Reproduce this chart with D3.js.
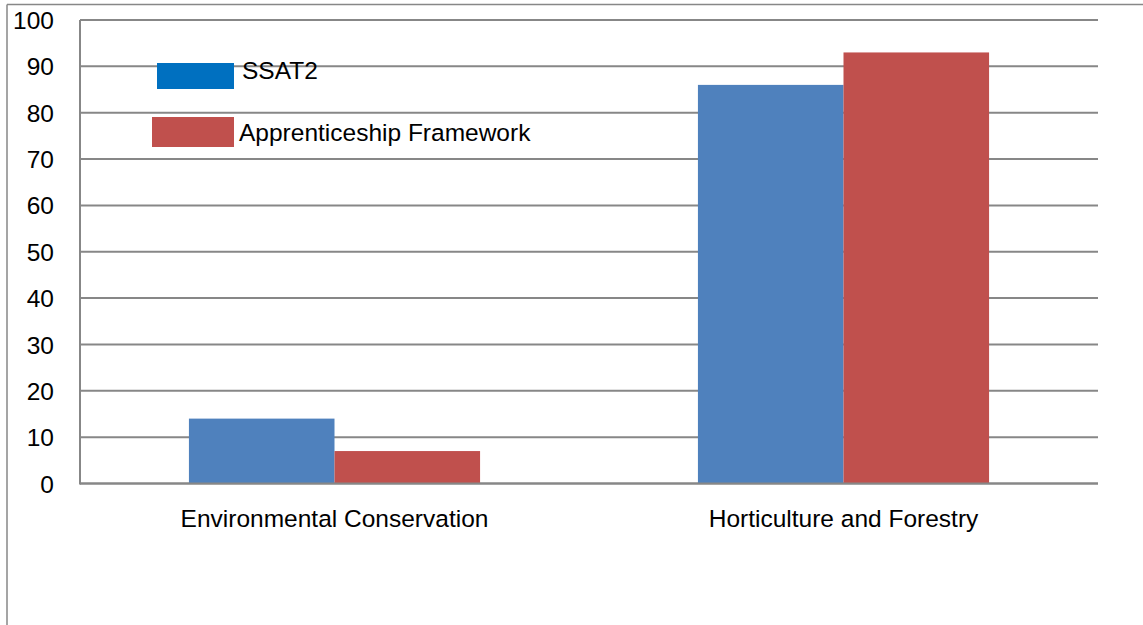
<!DOCTYPE html>
<html><head><meta charset="utf-8">
<script src="https://cdn.jsdelivr.net/npm/d3@7"></script>
<style>body{margin:0;background:#fff}svg{display:block}text{font-family:"Liberation Sans",Arial,sans-serif;fill:#000}</style>
</head><body>
<script>
const categories = ["Environmental Conservation", "Horticulture and Forestry"];
const seriesNames = ["SSAT2", "Apprenticeship Framework"];
const ssat2 = [14, 86];
const apprenticeship = [7, 93];
const yTicks = [0, 10, 20, 30, 40, 50, 60, 70, 80, 90, 100];

const W = 1143, H = 625;
const FS = 24.5;
const svg = d3.select("body").append("svg").attr("width", W).attr("height", H);
const m = {left: 80, right: 1098, top: 20, bottom: 483.5};

const grid = "#878787";
// outer frame (top and left visible)
svg.append("line").attr("x1", 7).attr("x2", W).attr("y1", 4.5).attr("y2", 4.5).attr("stroke", grid).attr("stroke-width", 1.5);
svg.append("line").attr("x1", 7).attr("x2", 7).attr("y1", 4.5).attr("y2", H).attr("stroke", grid).attr("stroke-width", 1.5);

const y = d3.scaleLinear().domain([0, 100]).range([m.bottom, m.top]);
const x0 = d3.scaleBand().domain(categories).range([m.left, m.right]).paddingInner(0.428).paddingOuter(0.214);
const x1 = d3.scaleBand().domain(seriesNames).range([0, x0.bandwidth()]);

// gridlines
svg.append("g").selectAll("line").data(yTicks).join("line")
  .attr("x1", m.left).attr("x2", m.right)
  .attr("y1", d => y(d)).attr("y2", d => y(d))
  .attr("stroke", grid).attr("stroke-width", 2);

// y axis labels
const yAxis = d3.axisLeft(y).tickValues(yTicks).tickSize(0).tickPadding(26);
const ya = svg.append("g").attr("transform", `translate(${m.left},0)`).call(yAxis);
ya.select(".domain").remove();
ya.selectAll("text").attr("font-size", FS).attr("font-family", '"Liberation Sans",Arial,sans-serif').attr("dy", "0.35em");

// bars
const colors = {"SSAT2": "#4F81BD", "Apprenticeship Framework": "#C0504D"};
const data = categories.map((c, i) => ({cat: c, vals: [{s: seriesNames[0], v: ssat2[i]}, {s: seriesNames[1], v: apprenticeship[i]}]}));
const g = svg.append("g").selectAll("g").data(data).join("g").attr("transform", d => `translate(${x0(d.cat)},0)`);
g.selectAll("rect").data(d => d.vals).join("rect")
  .attr("x", d => x1(d.s)).attr("width", x1.bandwidth())
  .attr("y", d => y(d.v)).attr("height", d => y(0) - y(d.v))
  .attr("fill", d => colors[d.s]);

// axes lines
svg.append("line").attr("x1", m.left).attr("x2", m.left).attr("y1", m.top).attr("y2", m.bottom + 1).attr("stroke", grid).attr("stroke-width", 2);
svg.append("line").attr("x1", m.left).attr("x2", m.right).attr("y1", m.bottom).attr("y2", m.bottom).attr("stroke", grid).attr("stroke-width", 2);

// x labels
const xAxis = d3.axisBottom(x0).tickSize(0).tickPadding(0);
const xa = svg.append("g").attr("transform", `translate(0,${m.bottom})`).call(xAxis);
xa.select(".domain").remove();
xa.selectAll("text").attr("font-size", FS).attr("font-family", '"Liberation Sans",Arial,sans-serif').attr("dy", null).attr("y", 43);

// legend
const legend = [
  {name: seriesNames[0], color: "#0070C0", rx: 157, ry: 63, rw: 77, rh: 26, tx: 242, ty: 79},
  {name: seriesNames[1], color: "#C0504D", rx: 152, ry: 117, rw: 82, rh: 30, tx: 239, ty: 141}
];
const lg = svg.append("g");
lg.selectAll("rect").data(legend).join("rect")
  .attr("x", d => d.rx).attr("y", d => d.ry).attr("width", d => d.rw).attr("height", d => d.rh).attr("fill", d => d.color);
lg.selectAll("text").data(legend).join("text")
  .attr("x", d => d.tx).attr("y", d => d.ty).attr("font-size", FS).text(d => d.name);
</script>
</body></html>
